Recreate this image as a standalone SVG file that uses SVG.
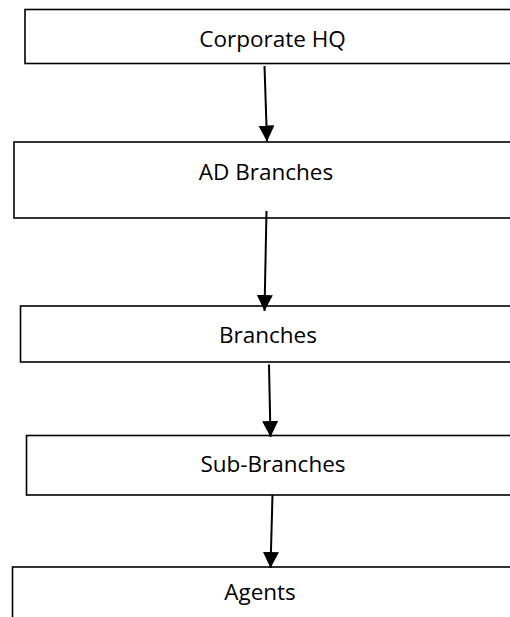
<svg xmlns="http://www.w3.org/2000/svg" width="510" height="617" viewBox="0 0 510 617">
<style>
.box{fill:#fff;stroke:#000;stroke-width:1.6}
.lbl{font-family:"Open Sans","Liberation Sans",sans-serif;font-size:22.5px;fill:#000;text-anchor:middle}
.conn{stroke:#000;stroke-width:2;fill:none}
</style>
<defs>
<marker id="ah" markerUnits="userSpaceOnUse" markerWidth="16" markerHeight="16" refX="15" refY="7.5" orient="auto" viewBox="0 0 15 15">
<path d="M0,0 L15,7.5 L0,15 z" fill="#000"/>
</marker>
</defs>
<rect width="510" height="617" fill="#fff"/>
<g id="node-corporate-hq">
<rect class="box" x="25" y="9.5" width="500" height="54"/>
<text class="lbl" x="272.5" y="46.5">Corporate HQ</text>
</g>
<g id="node-ad-branches">
<rect class="box" x="14" y="142" width="510" height="76"/>
<text class="lbl" x="266" y="180">AD Branches</text>
</g>
<g id="node-branches">
<rect class="box" x="20.5" y="306" width="510" height="56"/>
<text class="lbl" x="268" y="342.5">Branches</text>
</g>
<g id="node-sub-branches">
<rect class="box" x="26.5" y="435.5" width="510" height="59.5"/>
<text class="lbl" x="273" y="471.5">Sub-Branches</text>
</g>
<g id="node-agents">
<rect class="box" x="12.5" y="567" width="510" height="70"/>
<text class="lbl" x="260" y="600">Agents</text>
</g>
<g id="connectors">
<line class="conn" x1="264.5" y1="66" x2="267" y2="141.5" marker-end="url(#ah)"/>
<line class="conn" x1="266.5" y1="211" x2="264.5" y2="311" marker-end="url(#ah)"/>
<line class="conn" x1="269" y1="364.5" x2="270.5" y2="437" marker-end="url(#ah)"/>
<line class="conn" x1="272.5" y1="495" x2="270.5" y2="568" marker-end="url(#ah)"/>
</g>
</svg>
